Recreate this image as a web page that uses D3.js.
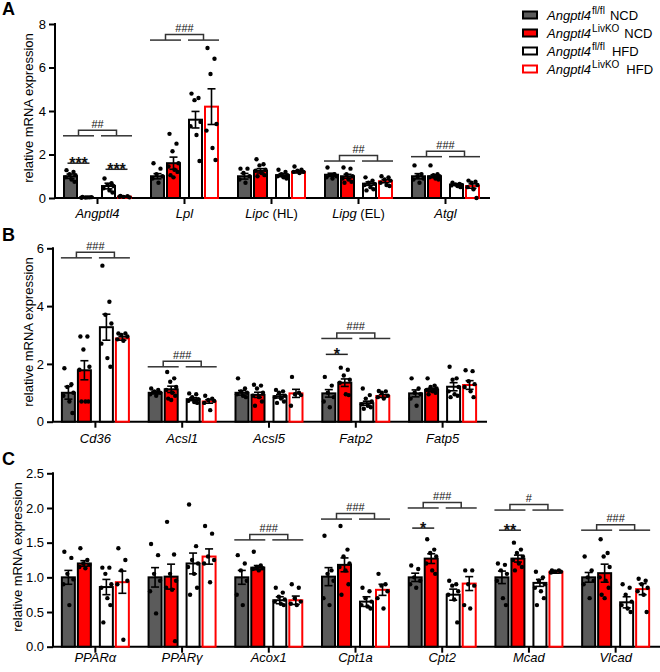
<!DOCTYPE html>
<html><head><meta charset="utf-8">
<script src="https://cdn.jsdelivr.net/npm/d3@7"></script>
<style>body{margin:0;background:#fff}svg{display:block}text{font-family:"Liberation Sans",Arial,sans-serif}</style>
</head><body><svg id="c" width="660" height="672"></svg>
<script>
// ---------- DATA ----------
const groups = ["Angptl4 fl/fl NCD","Angptl4 LivKO NCD","Angptl4 fl/fl HFD","Angptl4 LivKO HFD"];
const legendSup = ["fl/fl","LivKO","fl/fl","LivKO"];
const legendDiet = ["NCD","NCD","HFD","HFD"];

const genesA = ["Angptl4","Lpl","Lipc (HL)","Lipg (EL)","Atgl"];
const meansA = [[1.0,0.03,0.55,0.06],[1.0,1.6,3.6,4.2],[1.0,1.25,1.05,1.2],[1.07,1.0,0.66,0.77],[1.0,1.0,0.62,0.55]];
const semA = [[0.1,0.01,0.13,0.02],[0.12,0.28,0.38,0.82],[0.13,0.1,0.07,0.05],[0.07,0.09,0.08,0.07],[0.12,0.07,0.03,0.1]];
const pointsA = [
  [[1.28,1.2,1.1,1.05,0.95,0.85,0.75],[0.05,0.03,0.02,0.04,0.01,0.03],[0.9,0.68,0.6,0.55,0.45,0.35,0.25],[0.1,0.08,0.05,0.03,0.06]],
  [[1.6,1.35,1.1,1.0,0.9,0.7],[2.95,2.5,2.15,1.6,1.45,1.3,1.2,1.05,0.95],[4.8,4.6,4.5,3.5,3.3,2.9,1.7],[6.9,6.4,5.7,3.4,3.1,2.3,1.75]],
  [[1.35,1.35,1.15,1.0,0.85,0.7],[1.78,1.55,1.5,1.3,1.25,1.15,1.05,1.0],[1.3,1.2,1.1,1.05,1.0,0.95,0.9],[1.45,1.3,1.25,1.2,1.2,1.15]],
  [[1.4,1.1,1.05,1.0,0.95,0.9],[1.4,1.35,1.1,1.0,0.9,0.85,0.75,0.7],[0.95,0.8,0.7,0.65,0.6,0.5,0.4,0.35],[1.0,0.95,0.85,0.8,0.7,0.6,0.55]],
  [[1.5,1.1,1.0,0.9,0.85,0.7],[1.5,1.1,1.05,1.0,0.95,0.9,0.85],[0.7,0.65,0.62,0.6,0.58,0.55,0.5],[0.8,0.75,0.7,0.6,0.5,0.4,0.0]]
];
const ticksA = [0,2,4,6,8];
const hashA = [{g:"Angptl4",t:"##",y:2.86},{g:"Lpl",t:"###",y:7.26},{g:"Lipg (EL)",t:"##",y:1.7},{g:"Atgl",t:"###",y:1.9}];
const starsA = [{g:"Angptl4",pair:0,t:"***",y:1.6},{g:"Angptl4",pair:1,t:"***",y:1.32}];

const genesB = ["Cd36","Acsl1","Acsl5","Fatp2","Fatp5"];
const meansB = [[1.0,1.78,3.27,2.88],[1.0,1.12,0.78,0.7],[1.0,0.93,0.88,0.98],[0.98,1.35,0.64,0.89],[0.98,1.1,1.21,1.27]];
const semB = [[0.22,0.33,0.45,0.06],[0.04,0.11,0.05,0.06],[0.08,0.09,0.06,0.14],[0.13,0.13,0.07,0.05],[0.12,0.06,0.14,0.15]];
const pointsB = [
  [[1.85,1.3,1.2,1.0,0.9,0.7,0.3],[2.95,2.95,2.5,1.9,1.8,0.7,0.7,0.7],[5.4,4.15,3.7,3.4,2.7,2.2,1.9],[3.05,3.05,3.0,2.95,2.85,2.8]],
  [[1.15,1.1,1.05,1.0,0.95,0.9],[1.72,1.5,1.38,1.2,1.1,1.0,0.9,0.8,0.75],[0.98,0.95,0.85,0.78,0.72,0.68,0.65],[0.9,0.8,0.75,0.72,0.65,0.4]],
  [[1.5,1.15,1.05,1.0,0.95,0.9,0.85],[1.28,1.25,1.15,1.0,0.9,0.85,0.7,0.55],[1.1,1.05,1.0,0.9,0.85,0.8,0.7,0.65],[1.55,1.0,0.95,0.92,0.55]],
  [[1.55,1.25,1.0,0.85,0.7,0.5],[1.87,1.8,1.6,1.45,1.35,0.95,0.92],[1.15,0.92,0.8,0.7,0.6,0.55,0.5,0.45],[1.06,1.05,1.0,0.9,0.85,0.8]],
  [[1.5,1.15,1.0,0.95,0.8,0.55],[1.5,1.25,1.2,1.15,1.1,1.05,1.0,0.95],[1.9,1.5,1.45,1.2,1.05,0.95,0.9,0.85],[1.78,1.75,1.4,1.3,1.2,1.05,0.85]]
];
const ticksB = [0,2,4,6];
const hashB = [{g:"Cd36",t:"###",y:5.67},{g:"Acsl1",t:"###",y:1.9},{g:"Fatp2",t:"###",y:2.88}];
const starsB = [{g:"Fatp2",pair:0,t:"*",y:2.33}];

const genesC = ["PPARα","PPARγ","Acox1","Cpt1a","Cpt2","Mcad","Vlcad"];
const meansC = [[1.0,1.2,0.86,0.93],[1.0,1.01,1.2,1.3],[1.0,1.14,0.67,0.67],[1.01,1.18,0.65,0.82],[1.0,1.27,0.75,0.91],[1.0,1.27,0.92,1.08],[1.0,1.06,0.64,0.83]];
const semC = [[0.1,0.04,0.11,0.16],[0.14,0.18,0.15,0.11],[0.1,0.03,0.05,0.06],[0.13,0.1,0.07,0.08],[0.06,0.07,0.08,0.1],[0.09,0.05,0.05,0.02],[0.07,0.13,0.08,0.08]];
const pointsC = [
  [[1.37,1.28,1.05,0.97,0.9,0.6],[1.42,1.25,1.2,1.18,1.15,1.13],[1.14,1.14,1.05,0.9,0.85,0.7,0.6,0.35],[1.42,1.25,1.1,0.95,0.9,0.1]],
  [[1.48,1.32,1.05,0.95,0.8,0.48],[1.8,1.33,1.05,0.95,0.85,0.82,0.08],[2.05,1.45,1.25,1.2,1.15,1.05,0.85,0.75],[1.74,1.63,1.3,1.25,1.2,0.93]],
  [[1.32,1.2,1.1,0.95,0.75,0.6],[1.37,1.17,1.15,1.13,1.12,1.1],[0.85,0.78,0.72,0.68,0.65,0.62,0.6],[0.9,0.85,0.7,0.65,0.62,0.6]],
  [[1.6,1.1,1.05,0.95,0.7,0.6],[1.74,1.4,1.3,1.2,1.15,1.1,0.9,0.75],[0.85,0.8,0.7,0.65,0.6,0.58,0.55],[1.05,0.9,0.88,0.8,0.7,0.55]],
  [[1.17,1.12,1.0,0.95,0.9,0.85],[1.55,1.4,1.35,1.3,1.2,1.1,1.05],[0.95,0.9,0.88,0.8,0.75,0.68,0.35],[1.1,1.1,0.9,0.88,0.6,0.55]],
  [[1.2,1.18,1.1,1.05,0.95,0.7,0.6],[1.5,1.4,1.35,1.3,1.25,1.2,1.15,1.1],[1.08,1.0,0.95,0.9,0.85,0.8,0.7,0.6],[1.1,1.1,1.08,1.08,1.07]],
  [[1.3,1.1,1.0,0.95,0.9,0.7],[1.55,1.35,1.3,1.15,1.0,0.95,0.85,0.75,0.7],[0.9,0.85,0.75,0.65,0.6,0.55,0.5],[0.98,0.95,0.9,0.85,0.8,0.75,0.5]]
];
const ticksC = [0,0.5,1.0,1.5,2.0,2.5];
const hashC = [{g:"Acox1",t:"###",y:1.54},{g:"Cpt1a",t:"###",y:1.84},{g:"Cpt2",t:"###",y:2.0},{g:"Mcad",t:"#",y:1.97},{g:"Vlcad",t:"###",y:1.68}];
const starsC = [{g:"Cpt2",pair:0,t:"*",y:1.71},{g:"Mcad",pair:0,t:"**",y:1.68}];

// ---------- STYLE ----------
const fills = ["#5b5b5b","#ff0000","#ffffff","#ffffff"];
const strokes = ["#000","#000","#000","#ff0000"];
const barOff = [-27,-11,11,27];
const barW = 13;
const jitter = [-4,3,-1,5,-5,1,4,-3,0,2];
const svg = d3.select("#c");

function panel(o){
  const x = d3.scaleBand().domain(o.genes).range([o.x0,o.x1]);
  const cx = g => x(g) + x.bandwidth()/2 - 1;
  const y = d3.scaleLinear().domain([0,o.ymax]).range([o.yb,o.yt]);
  const g = svg.append("g");
  g.append("text").attr("x",2).attr("y",o.letterY).attr("font-size",18).attr("font-weight","bold").text(o.letter);
  const ya = g.append("g").attr("transform",`translate(${o.x0},0)`)
    .call(d3.axisLeft(y).tickValues(o.ticks).tickSize(6).tickPadding(3).tickFormat(o.fmt));
  ya.select(".domain").attr("stroke","#000").attr("stroke-width",2).attr("d",`M0,${o.yt-1}V${o.yb}`);
  ya.selectAll(".tick line").attr("stroke-width",2);
  ya.selectAll(".tick text").attr("font-size",13).attr("fill","#000").attr("font-family","Liberation Sans, Arial, sans-serif");
  g.append("text").attr("transform",`translate(${o.labX},${(o.yt+o.yb)/2-3}) rotate(-90)`)
    .attr("text-anchor","middle").attr("dominant-baseline","central").attr("font-size",13).text("relative mRNA expression");
  g.append("line").attr("x1",o.x0-1).attr("x2",o.x1).attr("y1",o.yb).attr("y2",o.yb).attr("stroke","#000").attr("stroke-width",2);
  o.genes.forEach(gn=>{
    g.append("line").attr("x1",cx(gn)).attr("x2",cx(gn)).attr("y1",o.yb).attr("y2",o.yb+6).attr("stroke","#000").attr("stroke-width",2);
    const m = gn.match(/^(\S+)( \(.*\))?$/);
    const t = g.append("text").attr("x",cx(gn)).attr("y",o.yb+o.labOff).attr("text-anchor","middle").attr("font-size",13);
    t.append("tspan").attr("font-style","italic").text(m[1]);
    if(m[2]) t.append("tspan").text(m[2]);
  });
  o.genes.forEach((gn,gi)=>{
    o.means[gi].forEach((mv,bi)=>{
      const bx = cx(gn)+barOff[bi];
      g.append("rect").attr("x",bx-barW/2).attr("width",barW).attr("y",y(mv)).attr("height",Math.max(0,y(0)-y(mv)))
        .attr("fill",fills[bi]).attr("stroke",strokes[bi]).attr("stroke-width",2);
    });
    o.means[gi].forEach((mv,bi)=>{
      const bx = cx(gn)+barOff[bi];
      o.points[gi][bi].forEach((pv,pi)=>{
        g.append("circle").attr("cx",bx+jitter[pi%jitter.length]).attr("cy",y(pv)).attr("r",2.2).attr("fill","#000");
      });
      const s = o.sem[gi][bi];
      const eg = g.append("g").attr("stroke","#000").attr("stroke-width",1.6);
      eg.append("line").attr("x1",bx).attr("x2",bx).attr("y1",y(mv-s)).attr("y2",y(mv+s));
      [mv-s,mv+s].forEach(v=>eg.append("line").attr("x1",bx-4).attr("x2",bx+4).attr("y1",y(v)).attr("y2",y(v)));
    });
  });
  o.hash.forEach(h=>{
    const c = cx(h.g), ly = y(h.y), cy = ly-5.5;
    const l0 = c+barOff[0]-barW/2-1, l1 = c+barOff[1]+barW/2+1;
    const r0 = c+barOff[2]-barW/2-1, r1 = c+barOff[3]+barW/2+1;
    const lm = (l0+l1)/2, rm = (r0+r1)/2;
    const bg = g.append("g").attr("stroke","#333").attr("stroke-width",1.5).attr("fill","none");
    bg.append("line").attr("x1",l0).attr("x2",l1).attr("y1",ly).attr("y2",ly);
    bg.append("line").attr("x1",r0).attr("x2",r1).attr("y1",ly).attr("y2",ly);
    bg.append("path").attr("d",`M${lm},${ly}V${cy}H${rm}V${ly}`);
    g.append("text").attr("x",c).attr("y",cy-2.5).attr("text-anchor","middle").attr("font-size",11).attr("fill","#111").text(h.t);
  });
  o.stars.forEach(s=>{
    const c = cx(s.g), a = c+barOff[s.pair*2]-3, b = c+barOff[s.pair*2+1]+3, ly = y(s.y);
    g.append("line").attr("x1",a).attr("x2",b).attr("y1",ly).attr("y2",ly).attr("stroke","#222").attr("stroke-width",1.5);
    g.append("text").attr("x",(a+b)/2).attr("y",ly+6).attr("text-anchor","middle").attr("font-size",16).attr("font-weight","bold").attr("fill","#111").text(s.t);
  });
}

panel({letter:"A",letterY:15,genes:genesA,means:meansA,sem:semA,points:pointsA,ticks:ticksA,hash:hashA,stars:starsA,
  x0:55,x1:490,yb:198,yt:24,ymax:8,labOff:20,labX:28,fmt:d3.format("d")});
panel({letter:"B",letterY:241,genes:genesB,means:meansB,sem:semB,points:pointsB,ticks:ticksB,hash:hashB,stars:starsB,
  x0:53,x1:487,yb:421.7,yt:248.3,ymax:6,labOff:21,labX:28,fmt:d3.format("d")});
panel({letter:"C",letterY:465,genes:genesC,means:meansC,sem:semC,points:pointsC,ticks:ticksC,hash:hashC,stars:starsC,
  x0:53,x1:660,yb:646.7,yt:473.3,ymax:2.5,labOff:15,labX:17,fmt:d3.format(".1f")});

const lg = svg.append("g");
groups.forEach((gname,i)=>{
  const cy = 15 + i*18;
  lg.append("rect").attr("x",523).attr("y",cy-3.5).attr("width",14).attr("height",7)
    .attr("fill",fills[i]).attr("stroke",strokes[i]).attr("stroke-width",2);
  const t = lg.append("text").attr("x",547).attr("y",cy+5).attr("font-size",13);
  t.append("tspan").attr("font-style","italic").text("Angptl4");
  t.append("tspan").attr("font-size",10).attr("dy",-6).attr("dx",1).text(legendSup[i]);
  t.append("tspan").attr("dy",6).attr("dx",legendDiet[i]==="HFD"?7:5).text(legendDiet[i]);
});
</script></body></html>
